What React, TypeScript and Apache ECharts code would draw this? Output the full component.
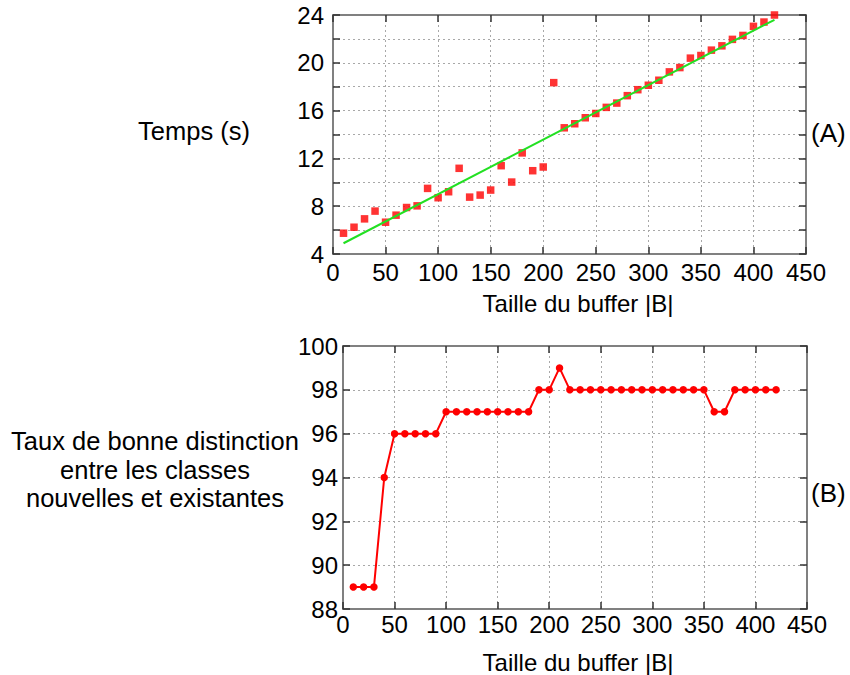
import React, { useEffect, useRef } from "react";
import * as echarts from "echarts";

const bufferSizes = [10, 20, 30, 40, 50, 60, 70, 80, 90, 100, 110, 120, 130, 140, 150, 160, 170, 180, 190, 200, 210, 220, 230, 240, 250, 260, 270, 280, 290, 300, 310, 320, 330, 340, 350, 360, 370, 380, 390, 400, 410, 420];
const timeValues = [5.74, 6.24, 6.94, 7.59, 6.66, 7.25, 7.89, 8.03, 9.49, 8.71, 9.21, 11.17, 8.76, 8.93, 9.35, 11.39, 10.02, 12.46, 10.97, 11.28, 18.34, 14.56, 14.9, 15.4, 15.76, 16.27, 16.63, 17.25, 17.75, 18.12, 18.54, 19.24, 19.6, 20.39, 20.61, 21.06, 21.42, 21.96, 22.29, 23.05, 23.41, 24.0];
const fitX = [10, 420];
const fitY = [4.9, 23.6];
const rateValues = [89, 89, 89, 94, 96, 96, 96, 96, 96, 97, 97, 97, 97, 97, 97, 97, 97, 97, 98, 98, 99, 98, 98, 98, 98, 98, 98, 98, 98, 98, 98, 98, 98, 98, 98, 97, 97, 98, 98, 98, 98, 98];

const xTickLabels = ["0", "50", "100", "150", "200", "250", "300", "350", "400", "450"];
const yTopTicks = ["4", "8", "12", "16", "20", "24"];
const yBottomTicks = ["88", "90", "92", "94", "96", "98", "100"];

const FONT = "'Liberation Sans', Arial, sans-serif";
const FS = 24;
const TICK_COLOR = "#333";
const BORDER = "#808080";
const GRIDLINE = { type: [2, 3] as any, color: "#a8a8a8", width: 1 };

function App() {
  const ref = useRef<HTMLDivElement>(null);
  useEffect(() => {
    if (!ref.current) return;
    const chart = echarts.init(ref.current, null, { renderer: "svg" });

    const baseX = (gridIndex: number, margin: number, position: string, showLabel: boolean) => ({
      type: "value",
      gridIndex,
      position,
      min: 0,
      max: 450,
      interval: 50,
      axisLine: { show: true, onZero: false, lineStyle: { color: BORDER, width: 2 } },
      axisTick: { show: true, inside: true, length: 7, lineStyle: { color: TICK_COLOR, width: 1.5 } },
      axisLabel: {
        show: showLabel,
        margin,
        color: "#000",
        fontFamily: FONT,
        fontSize: FS,
        formatter: (v: number) => xTickLabels[Math.round(v / 50)] ?? String(v),
      },
      splitLine: { show: showLabel, lineStyle: GRIDLINE },
    });

    const topY = (position: string, showLabel: boolean) => ({
      type: "value",
      gridIndex: 0,
      position,
      min: 4,
      max: 24,
      interval: 4,
      axisLine: { show: true, onZero: false, lineStyle: { color: BORDER, width: 2 } },
      axisTick: { show: true, inside: true, length: 7, lineStyle: { color: TICK_COLOR, width: 1.5 } },
      minorTick: { show: true, splitNumber: 2, length: 7, lineStyle: { color: TICK_COLOR, width: 1.5 } },
      minorSplitLine: { show: showLabel, lineStyle: GRIDLINE },
      axisLabel: {
        show: showLabel,
        margin: 9,
        color: "#000",
        fontFamily: FONT,
        fontSize: FS,
        formatter: (v: number) => yTopTicks[Math.round((v - 4) / 4)] ?? String(v),
      },
      splitLine: { show: showLabel, lineStyle: GRIDLINE },
    });

    const bottomY = (position: string, showLabel: boolean) => ({
      type: "value",
      gridIndex: 1,
      position,
      min: 88,
      max: 100,
      interval: 2,
      axisLine: { show: true, onZero: false, lineStyle: { color: BORDER, width: 2 } },
      axisTick: { show: true, inside: true, length: 7, lineStyle: { color: TICK_COLOR, width: 1.5 } },
      axisLabel: {
        show: showLabel,
        margin: 5,
        color: "#000",
        fontFamily: FONT,
        fontSize: FS,
        formatter: (v: number) => yBottomTicks[Math.round((v - 88) / 2)] ?? String(v),
      },
      splitLine: { show: showLabel, lineStyle: GRIDLINE },
    });

    const textStyle = { fontFamily: FONT, fontSize: 24, fill: "#000" };
    const leftStyle = { fontFamily: FONT, fontSize: 25.5, fill: "#000" };
    const tagStyle = { fontFamily: FONT, fontSize: 26, fill: "#000" };

    chart.setOption({
      animation: false,
      backgroundColor: "#fff",
      grid: [
        { left: 333, top: 15, width: 473, height: 239, containLabel: false },
        { left: 343, top: 346, width: 464, height: 263, containLabel: false },
      ],
      xAxis: [
        baseX(0, 6, "bottom", true),
        baseX(0, 6, "top", false),
        baseX(1, 3, "bottom", true),
        baseX(1, 3, "top", false),
      ],
      yAxis: [
        topY("left", true),
        topY("right", false),
        bottomY("left", true),
        bottomY("right", false),
      ],
      series: [
        {
          type: "scatter",
          xAxisIndex: 0,
          yAxisIndex: 0,
          symbol: "rect",
          symbolSize: 7.5,
          clip: false,
          itemStyle: { color: "#ff0000" },
          data: bufferSizes.map((x, i) => [x, timeValues[i]]),
          z: 3,
        },
        {
          type: "line",
          xAxisIndex: 0,
          yAxisIndex: 0,
          showSymbol: false,
          symbol: "none",
          lineStyle: { color: "#22e022", width: 2 },
          data: fitX.map((x, i) => [x, fitY[i]]),
          z: 4,
        },
        {
          type: "line",
          xAxisIndex: 2,
          yAxisIndex: 2,
          symbol: "circle",
          symbolSize: 7.5,
          showSymbol: true,
          lineStyle: { color: "#ff0000", width: 2 },
          itemStyle: { color: "#ff0000" },
          data: bufferSizes.map((x, i) => [x, rateValues[i]]),
        },
      ],
      graphic: [
        { type: "text", x: 194, y: 131, style: { ...leftStyle, text: "Temps (s)", textAlign: "center", textVerticalAlign: "middle" } },
        { type: "text", x: 811, y: 133, style: { ...tagStyle, text: "(A)", textAlign: "left", textVerticalAlign: "middle" } },
        { type: "text", x: 578, y: 303, style: { ...textStyle, text: "Taille du buffer |B|", textAlign: "center", textVerticalAlign: "middle" } },
        { type: "text", x: 155, y: 441, style: { ...leftStyle, text: "Taux de bonne distinction", textAlign: "center", textVerticalAlign: "middle" } },
        { type: "text", x: 155, y: 470, style: { ...leftStyle, text: "entre les classes", textAlign: "center", textVerticalAlign: "middle" } },
        { type: "text", x: 155, y: 498, style: { ...leftStyle, text: "nouvelles et existantes", textAlign: "center", textVerticalAlign: "middle" } },
        { type: "text", x: 811, y: 493, style: { ...tagStyle, text: "(B)", textAlign: "left", textVerticalAlign: "middle" } },
        { type: "text", x: 578, y: 662, style: { ...textStyle, text: "Taille du buffer |B|", textAlign: "center", textVerticalAlign: "middle" } },
      ],
    });

    return () => chart.dispose();
  }, []);

  return (
    <div
      ref={ref}
      style={{ position: "fixed", left: 0, top: 0, width: 850, height: 675, background: "#fff" }}
    />
  );
}

export default App;
